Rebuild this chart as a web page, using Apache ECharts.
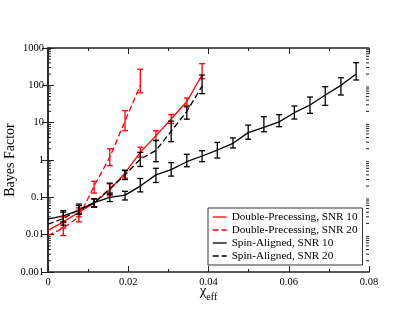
<!DOCTYPE html>
<html>
<head>
    <meta charset="utf-8"/>
    <script type="text/javascript" src="https://cdn.jsdelivr.net/npm/echarts@6/dist/echarts.min.js"></script>
    <style>
        html, body { margin: 0; padding: 0; background: #fff; }
        #chart { width: 415px; height: 321px; }
    </style>
</head>
<body>
<div id="chart"></div>
<script type="text/javascript">
    // chi_eff sample points (shared by all runs)
    var xVals = [0, 0.0038, 0.0077, 0.0115, 0.0154, 0.0192, 0.0230, 0.0269, 0.0307, 0.0346, 0.0384,
        0.0422, 0.0461, 0.0499, 0.0538, 0.0576, 0.0614, 0.0653, 0.0691, 0.0730, 0.0768];

    // Double-Precessing, SNR 10
    var dp10 = [0.013, 0.022, 0.040, 0.070, 0.16, 0.45, 1.6, 4.5, 12.5, 37, 190];
    var dp10Lo = [null, 0.015, 0.030, 0.055, 0.11, 0.33, 1.2, 3.4, 9.5, 29, 150];
    var dp10Hi = [null, 0.030, 0.052, 0.090, 0.23, 0.54, 2.2, 6.1, 16.5, 46, 380];

    // Double-Precessing, SNR 20
    var dp20 = [0.0095, 0.015, 0.030, 0.20, 1.2, 11, 100];
    var dp20Lo = [null, 0.0095, 0.022, 0.13, 0.70, 6.1, 63];
    var dp20Hi = [null, 0.021, 0.045, 0.27, 2.0, 21, 270];

    // Spin-Aligned, SNR 10
    var sa10 = [0.026, 0.032, 0.045, 0.072, 0.10, 0.115, 0.20, 0.40, 0.55, 0.90, 1.28,
        1.85, 2.8, 5.4, 7.5, 10.5, 18.5, 29.7, 55, 100, 200];
    var sa10Lo = [null, 0.022, 0.035, 0.055, 0.077, 0.085, 0.14, 0.25, 0.37, 0.66, 0.90,
        1.13, 2.1, 3.6, 5.7, 7.8, 12.5, 17.8, 29, 55, 139];
    var sa10Hi = [null, 0.044, 0.060, 0.092, 0.13, 0.145, 0.32, 0.60, 0.85, 1.42, 1.77,
        2.95, 3.9, 8.6, 14.5, 16.4, 27.9, 48.6, 92, 160, 404];

    // Spin-Aligned, SNR 20
    var sa20 = [0.019, 0.027, 0.047, 0.072, 0.17, 0.40, 1.05, 1.8, 5.9, 20, 95];
    var sa20Lo = [null, 0.018, 0.036, 0.055, 0.12, 0.30, 0.67, 0.90, 3.1, 12.4, 60];
    var sa20Hi = [null, 0.040, 0.066, 0.092, 0.24, 0.52, 1.6, 3.3, 11, 26.5, 189];

    var names = ['Double-Precessing, SNR 10', 'Double-Precessing, SNR 20',
        'Spin-Aligned, SNR 10', 'Spin-Aligned, SNR 20'];
    var yTickLabels = ['0.001', '0.01', '0.1', '1', '10', '100', '1000'];

    var font = 'Liberation Serif';

    function linePoints(ys) {
        return ys.map(function (y, i) { return [xVals[i], y]; });
    }

    function barPoints(lo, hi) {
        var out = [];
        for (var i = 0; i < lo.length; i++) {
            if (lo[i] != null) out.push([xVals[i], lo[i], hi[i]]);
        }
        return out;
    }

    function errorBarItem(color) {
        return function (params, api) {
            var x = api.value(0);
            var lo = api.coord([x, api.value(1)]);
            var hi = api.coord([x, api.value(2)]);
            var w = 3;
            var st = {stroke: color, lineWidth: 1.3};
            return {
                type: 'group',
                children: [
                    {type: 'line', shape: {x1: lo[0], y1: lo[1], x2: hi[0], y2: hi[1]}, style: st},
                    {type: 'line', shape: {x1: lo[0] - w, y1: lo[1], x2: lo[0] + w, y2: lo[1]}, style: st},
                    {type: 'line', shape: {x1: hi[0] - w, y1: hi[1], x2: hi[0] + w, y2: hi[1]}, style: st}
                ]
            };
        };
    }

    // minor ticks for the log axis (2..9 in every decade)
    var minorVals = [];
    for (var k = -3; k < 3; k++) {
        for (var m = 2; m <= 9; m++) minorVals.push([m * Math.pow(10, k)]);
    }

    function lineSeries(name, ys, color, dashed) {
        return {
            name: name,
            type: 'line',
            data: linePoints(ys),
            symbol: 'none',
            color: color,
            lineStyle: {color: color, width: 1.3, type: dashed ? [6, 3] : 'solid'},
            z: 3
        };
    }

    function barSeries(lo, hi, color) {
        return {
            type: 'custom',
            renderItem: errorBarItem(color),
            data: barPoints(lo, hi),
            encode: {x: 0, y: [1, 2]},
            silent: true,
            z: 4
        };
    }

    var axisLineStyle = {color: '#222', width: 1.5};

    var chart = echarts.init(document.getElementById('chart'));
    chart.setOption({
        animation: false,
        backgroundColor: '#fff',
        grid: {left: 48, right: 46, top: 48, bottom: 49, containLabel: false, outerBoundsMode: 'none'},
        legend: {
            data: names,
            orient: 'vertical',
            left: 208,
            top: 208,
            backgroundColor: '#fff',
            borderColor: '#333',
            borderWidth: 1,
            borderRadius: 0,
            padding: [3, 5, 3, 4],
            itemGap: 1,
            itemWidth: 14,
            itemHeight: 10,
            itemStyle: {opacity: 0},
            lineStyle: {width: 1.3},
            textStyle: {fontFamily: font, fontSize: 11.2, color: '#000', lineHeight: 12}
        },
        xAxis: [{
            type: 'value', min: 0, max: 0.08, interval: 0.02,
            position: 'bottom',
            axisLine: {lineStyle: axisLineStyle},
            axisTick: {inside: true, length: 6, lineStyle: {color: '#222'}},
            minorTick: {show: true, splitNumber: 2, length: 3, lineStyle: {color: '#222'}},
            splitLine: {show: false},
            axisLabel: {
                fontFamily: font, fontSize: 10.5, color: '#000', margin: 5,
                formatter: function (v) { return v === 0 ? '0' : v.toFixed(2); }
            },
            name: '{c|χ}{s|eff}',
            nameLocation: 'middle',
            nameGap: 12,
            nameMoveOverlap: false,
            nameTextStyle: {
                rich: {
                    c: {fontFamily: font, fontSize: 15, color: '#000', lineHeight: 16, verticalAlign: 'top'},
                    s: {fontFamily: font, fontSize: 10, color: '#000', lineHeight: 12, verticalAlign: 'top',
                        padding: [8, 0, 0, 0]}
                }
            }
        }, {
            type: 'value', min: 0, max: 0.08, interval: 0.02,
            position: 'top',
            axisLine: {lineStyle: axisLineStyle},
            axisTick: {inside: true, length: 6, lineStyle: {color: '#222'}},
            minorTick: {show: true, splitNumber: 2, length: 3, lineStyle: {color: '#222'}},
            splitLine: {show: false},
            axisLabel: {show: false}
        }],
        yAxis: [{
            type: 'log', min: 0.001, max: 1000, logBase: 10,
            position: 'left',
            axisLine: {lineStyle: axisLineStyle},
            axisTick: {inside: true, length: 6, lineStyle: {color: '#222'}},
            splitLine: {show: false},
            axisLabel: {
                fontFamily: font, fontSize: 10.5, color: '#000', margin: 4,
                formatter: function (v) { return yTickLabels[Math.round(Math.log10(v)) + 3]; }
            },
            name: 'Bayes Factor',
            nameLocation: 'middle',
            nameGap: 31,
            nameMoveOverlap: false,
            nameTextStyle: {fontFamily: font, fontSize: 14, color: '#000'}
        }, {
            type: 'log', min: 0.001, max: 1000, logBase: 10,
            position: 'right',
            axisLine: {lineStyle: axisLineStyle},
            axisTick: {inside: true, length: 6, lineStyle: {color: '#222'}},
            splitLine: {show: false},
            axisLabel: {show: false}
        }],
        series: [
            lineSeries(names[0], dp10, '#ff0000', false),
            lineSeries(names[1], dp20, '#ff0000', true),
            lineSeries(names[2], sa10, '#000000', false),
            lineSeries(names[3], sa20, '#000000', true),
            barSeries(dp10Lo, dp10Hi, '#ff0000'),
            barSeries(dp20Lo, dp20Hi, '#ff0000'),
            barSeries(sa10Lo, sa10Hi, '#000000'),
            barSeries(sa20Lo, sa20Hi, '#000000'),
            {
                type: 'custom',
                silent: true,
                data: minorVals,
                encode: {y: 0},
                renderItem: function (params, api) {
                    var v = api.value(0);
                    var l = api.coord([0, v]);
                    var r = api.coord([0.08, v]);
                    var st = {stroke: '#222', lineWidth: 1};
                    return {
                        type: 'group',
                        children: [
                            {type: 'line', shape: {x1: l[0], y1: l[1], x2: l[0] + 3, y2: l[1]}, style: st},
                            {type: 'line', shape: {x1: r[0], y1: r[1], x2: r[0] - 3, y2: r[1]}, style: st}
                        ]
                    };
                },
                z: 1
            }
        ]
    });
</script>
</body>
</html>
